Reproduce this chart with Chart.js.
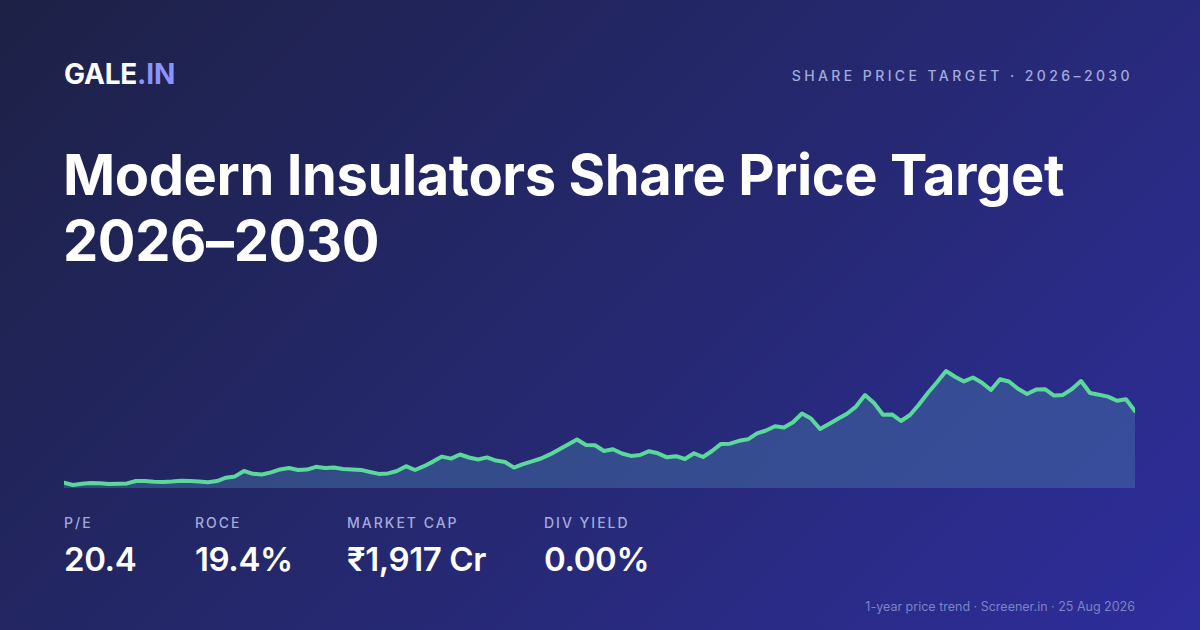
<!DOCTYPE html>
<html>
<head>
<meta charset="utf-8">
<script src="https://cdn.jsdelivr.net/npm/chart.js@4.4.1/dist/chart.umd.min.js"></script>
<style>
  html, body { margin: 0; padding: 0; }
  body {
    width: 1200px; height: 630px; overflow: hidden; position: relative;
    font-family: Inter, "Noto Sans", sans-serif;
    background: linear-gradient(135deg, #1d2146 0%, #25286e 50%, #2e2d9c 100%);
    color: #fff;
  }
  .brand { position: absolute; left: 64px; top: 57px; font-size: 28px; font-weight: 700; letter-spacing: -0.2px; }
  .brand span { color: #8b93ff; }
  .kicker { position: absolute; right: 67px; top: 67px; font-size: 14px; font-weight: 500; letter-spacing: 3.4px; color: #a3aadd; }
  h1 { position: absolute; left: 63px; top: 142px; margin: 0; font-size: 56px; line-height: 66px; font-weight: 700; letter-spacing: -0.4px; }
  .chart-wrap { position: absolute; left: 64px; top: 360px; width: 1071px; height: 128px; }
  .stats { position: absolute; left: 64px; top: 514px; }
  .stat { position: absolute; top: 0; white-space: nowrap; }
  .stat .lbl { font-size: 14px; font-weight: 500; letter-spacing: 2px; color: #a3aadd; }
  .stat .val { margin-top: 8px; font-size: 33px; font-weight: 600; letter-spacing: -0.4px; }
  .foot { position: absolute; right: 65px; top: 599px; font-size: 12.5px; color: #7d83c4; }
</style>
</head>
<body>
<div class="brand">GALE<span>.IN</span></div>
<div class="kicker">SHARE PRICE TARGET · 2026–2030</div>
<h1>Modern Insulators Share Price Target<br>2026–2030</h1>

<div class="chart-wrap"><canvas id="trend"></canvas></div>

<div class="stats" id="stats"></div>

<div class="foot">1-year price trend · Screener.in · 25 Aug 2026</div>

<script>
const prices = [
  105.3, 103, 104.3, 105.1, 104.8, 104, 104.3, 104.6, 107, 107,
  106.2, 106, 106.5, 107.3, 107, 106.4, 105.8, 106.9, 110.3, 111.6,
  117, 114.2, 113.5, 115.6, 118.6, 120, 118, 118.4, 121.2, 120,
  120.4, 119, 118.6, 118.1, 116, 114.1, 114.6, 117, 121.8, 118,
  121.8, 126.4, 131.4, 129.4, 133.5, 130.5, 128.5, 130.6, 127.4, 126,
  120.4, 123.8, 126.7, 129.5, 133.6, 138.5, 143.6, 148.5, 143, 142.8,
  137, 138.7, 134.5, 132.1, 133, 136.8, 134.7, 130.7, 131.8, 129,
  134.7, 131, 137, 144.1, 144.3, 147.2, 148.7, 154.7, 157.5, 161.7,
  160.5, 165.7, 174.5, 169.5, 159, 164, 169.2, 174.3, 181.4, 193,
  185, 173.3, 173.6, 167, 173, 183.5, 195.3, 205.8, 217, 211.3,
  206.6, 210.5, 205.3, 198, 208.8, 206.5, 199.2, 194, 198.4, 198.8,
  192.4, 193.1, 199, 207, 195, 193.3, 191.4, 187.3, 188.7, 177
];
const days = prices.map((_, i) => i + 1);

const statLabels = ["P/E", "ROCE", "MARKET CAP", "DIV YIELD"];
const statValues = ["20.4", "19.4%", "₹1,917 Cr", "0.00%"];
const statOffsets = [0, 131, 283, 480];

const statsEl = document.getElementById("stats");
statLabels.forEach((l, i) => {
  const d = document.createElement("div");
  d.className = "stat";
  d.style.left = statOffsets[i] + "px";
  d.innerHTML = `<div class="lbl">${l}</div><div class="val">${statValues[i]}</div>`;
  statsEl.appendChild(d);
});

new Chart(document.getElementById("trend"), {
  type: "line",
  data: {
    labels: days,
    datasets: [{
      data: prices,
      borderColor: "#5ad99b",
      borderWidth: 4,
      backgroundColor: "rgba(70,120,170,0.45)",
      fill: "start",
      tension: 0,
      pointRadius: 0,
      borderJoinStyle: "round",
      borderCapStyle: "round"
    }]
  },
  options: {
    responsive: true,
    maintainAspectRatio: false,
    animation: false,
    layout: { padding: 0 },
    plugins: { legend: { display: false }, tooltip: { enabled: false } },
    scales: {
      x: { display: false, offset: false },
      y: { display: false, min: 100, max: 228 }
    }
  }
});
</script>
</body>
</html>
